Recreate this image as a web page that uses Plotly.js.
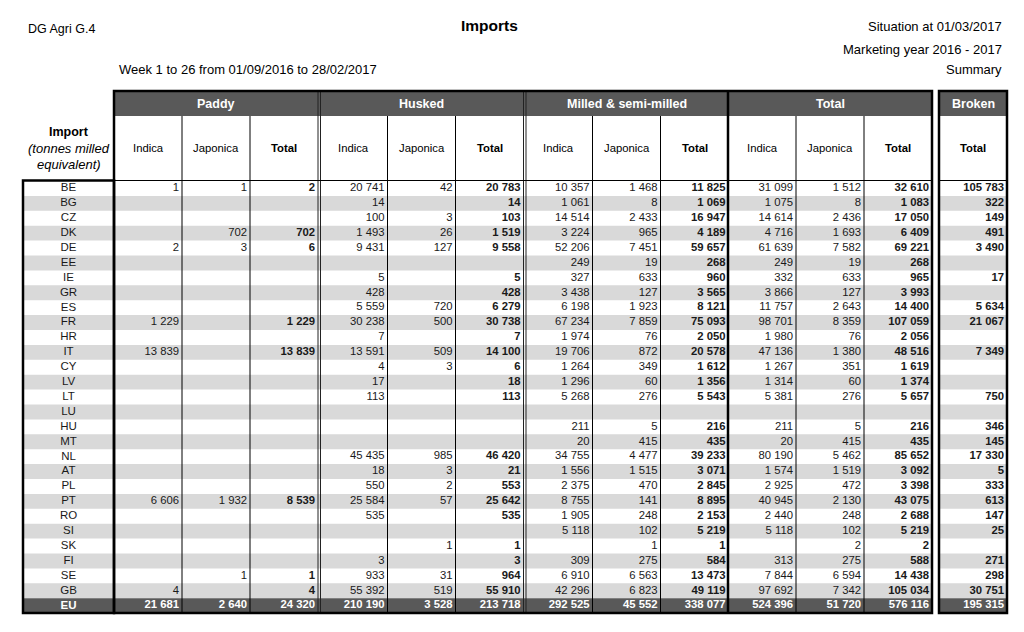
<!DOCTYPE html>
<html>
<head>
<meta charset="utf-8">
<script src="https://cdn.plot.ly/plotly-3.0.1.min.js"></script>
<style>html,body{margin:0;padding:0;background:#fff;}#chart{width:1024px;height:632px;}</style>
</head>
<body>
<div id="chart"></div>
<script>
// ---------------- DATA ----------------
const countries = ['BE','BG','CZ','DK','DE','EE','IE','GR','ES','FR','HR','IT','CY','LV','LT','LU','HU','MT','NL','AT','PL','PT','RO','SI','SK','FI','SE','GB','EU'];

const paddyIndica    = [1,null,null,null,2,null,null,null,null,1229,null,13839,null,null,null,null,null,null,null,null,null,6606,null,null,null,null,null,4,21681];
const paddyJaponica  = [1,null,null,702,3,null,null,null,null,null,null,null,null,null,null,null,null,null,null,null,null,1932,null,null,null,null,1,null,2640];
const paddyTotal     = [2,null,null,702,6,null,null,null,null,1229,null,13839,null,null,null,null,null,null,null,null,null,8539,null,null,null,null,1,4,24320];

const huskedIndica   = [20741,14,100,1493,9431,null,5,428,5559,30238,7,13591,4,17,113,null,null,null,45435,18,550,25584,535,null,null,3,933,55392,210190];
const huskedJaponica = [42,null,3,26,127,null,null,null,720,500,null,509,3,null,null,null,null,null,985,3,2,57,null,null,1,null,31,519,3528];
const huskedTotal    = [20783,14,103,1519,9558,null,5,428,6279,30738,7,14100,6,18,113,null,null,null,46420,21,553,25642,535,null,1,3,964,55910,213718];

const milledIndica   = [10357,1061,14514,3224,52206,249,327,3438,6198,67234,1974,19706,1264,1296,5268,null,211,20,34755,1556,2375,8755,1905,5118,null,309,6910,42296,292525];
const milledJaponica = [1468,8,2433,965,7451,19,633,127,1923,7859,76,872,349,60,276,null,5,415,4477,1515,470,141,248,102,1,275,6563,6823,45552];
const milledTotal    = [11825,1069,16947,4189,59657,268,960,3565,8121,75093,2050,20578,1612,1356,5543,null,216,435,39233,3071,2845,8895,2153,5219,1,584,13473,49119,338077];

const totalIndica    = [31099,1075,14614,4716,61639,249,332,3866,11757,98701,1980,47136,1267,1314,5381,null,211,20,80190,1574,2925,40945,2440,5118,null,313,7844,97692,524396];
const totalJaponica  = [1512,8,2436,1693,7582,19,633,127,2643,8359,76,1380,351,60,276,null,5,415,5462,1519,472,2130,248,102,2,275,6594,7342,51720];
const totalTotal     = [32610,1083,17050,6409,69221,268,965,3993,14400,107059,2056,48516,1619,1374,5657,null,216,435,85652,3092,3398,43075,2688,5219,2,588,14438,105034,576116];

const brokenTotal    = [105783,322,149,491,3490,null,17,null,5634,21067,null,7349,null,null,750,null,346,145,17330,5,333,613,147,25,null,271,298,30751,195315];

const groupNames = ['Paddy','Husked','Milled & semi-milled','Total'];
const subLabels  = ['Indica','Japonica','Total'];
const brokenName = 'Broken';

const headerLeft   = 'DG Agri G.4';
const headerTitle  = 'Imports';
const headerRight1 = 'Situation at 01/03/2017';
const headerRight2 = 'Marketing year 2016 - 2017';
const headerWeek   = 'Week 1 to 26 from 01/09/2016 to 28/02/2017';
const headerRight3 = 'Summary';

// ---------------- LAYOUT / STYLE ----------------
const FONT = '"Liberation Sans", Arial, sans-serif';
const DARK = '#595959', STRIPE = '#d9d9d9', INK = '#1a1a1a';
const G = {
  labelX0: 23, labelX1: 114,
  bandTop: 91, bandBot: 116, subBot: 180.5,
  rowTop: 181, rowH: 14.9,
  colW: 68,
  groupX0: [114, 319.5, 524.5, 728],
  brokenX0: 939
};
const groupSeries = [
  [paddyIndica, paddyJaponica, paddyTotal],
  [huskedIndica, huskedJaponica, huskedTotal],
  [milledIndica, milledJaponica, milledTotal],
  [totalIndica, totalJaponica, totalTotal]
];

const nRows = countries.length;
const euIdx = nRows - 1;
const rowY = i => G.rowTop + (i + 0.5) * G.rowH;
const bottom = G.rowTop + nRows * G.rowH;
const mainX1 = G.groupX0[3] + 3 * G.colW;
const brokenX1 = G.brokenX0 + G.colW;
const fmt = v => String(v).replace(/\B(?=(\d{3})+(?!\d))/g, ' ');

// columns
const columns = [];
groupSeries.forEach((ser, g) => {
  ser.forEach((vals, k) => {
    const x0 = G.groupX0[g] + k * G.colW;
    columns.push({x0, x1: x0 + G.colW, vals, bold: k === 2});
  });
});
columns.push({x0: G.brokenX0, x1: brokenX1, vals: brokenTotal, bold: true});

const traces = [];
columns.forEach(col => {
  const xs = [], ys = [], ts = [], cs = [];
  col.vals.forEach((v, i) => {
    if (v == null) return;
    xs.push(col.x1 - 3);
    ys.push(rowY(i));
    const s = fmt(v);
    ts.push((col.bold || i === euIdx) ? '<b>' + s + '</b>' : s);
    cs.push(i === euIdx ? '#ffffff' : INK);
  });
  traces.push({
    type: 'scatter', mode: 'text', x: xs, y: ys, text: ts,
    textposition: 'middle left',
    textfont: {family: FONT, size: 11.3, color: cs},
    hoverinfo: 'skip', showlegend: false, cliponaxis: false
  });
});
// row labels
traces.push({
  type: 'scatter', mode: 'text',
  x: countries.map(() => (G.labelX0 + G.labelX1) / 2),
  y: countries.map((c, i) => rowY(i)),
  text: countries.map((c, i) => i === euIdx ? '<b>' + c + '</b>' : c),
  textposition: 'middle center',
  textfont: {family: FONT, size: 11.5, color: countries.map((c, i) => i === euIdx ? '#ffffff' : INK)},
  hoverinfo: 'skip', showlegend: false, cliponaxis: false
});

// shapes
const shapes = [];
const rect = (x0, x1, y0, y1, fill, layer) => shapes.push({type: 'rect', xref: 'x', yref: 'y', x0, x1, y0, y1, fillcolor: fill, line: {width: 0}, layer: layer || 'below'});
const line = (x0, y0, x1, y1, w, c) => shapes.push({type: 'line', xref: 'x', yref: 'y', x0, y0, x1, y1, line: {width: w, color: c || '#000'}});
const box = (x0, x1, y0, y1, w) => shapes.push({type: 'rect', xref: 'x', yref: 'y', x0, x1, y0, y1, fillcolor: 'rgba(0,0,0,0)', line: {width: w, color: '#000'}});

for (let i = 0; i < nRows; i++) {
  const y0 = G.rowTop + i * G.rowH, y1 = y0 + G.rowH;
  if (i === euIdx) {
    rect(G.labelX0, mainX1, y0, y1, DARK);
    rect(G.brokenX0, brokenX1, y0, y1, DARK);
  } else if (i % 2 === 1) {
    rect(G.labelX0, mainX1, y0, y1, STRIPE);
    rect(G.brokenX0, brokenX1, y0, y1, STRIPE);
  }
}
// header bands
rect(G.groupX0[0], mainX1, G.bandTop, G.bandBot, DARK);
rect(G.brokenX0, brokenX1, G.bandTop, G.bandBot, DARK);

// inner column lines
G.groupX0.forEach(x0 => {
  for (let k = 1; k < 3; k++) line(x0 + k * G.colW, G.bandBot, x0 + k * G.colW, bottom, 1, '#000');
});
// group separators (double lines)
[1, 2].forEach(g => {
  const xr = G.groupX0[g - 1] + 3 * G.colW;
  line(xr, G.bandTop, xr, bottom, 1, '#222');
  line(xr + 2.5, G.bandTop, xr + 2.5, bottom, 1, '#222');
});
line(G.groupX0[3], G.bandTop, G.groupX0[3], bottom, 2.5, '#000');
// header bottom lines
line(G.groupX0[0], G.subBot, mainX1, G.subBot, 1, '#000');
line(G.brokenX0, G.subBot, brokenX1, G.subBot, 1, '#000');
// outer boxes
box(G.groupX0[0], mainX1, G.bandTop, bottom, 2.5);
box(G.brokenX0, brokenX1, G.bandTop, bottom, 2.5);
box(G.labelX0, G.labelX1, G.subBot, bottom, 2.5);

// annotations
const ann = [];
const A = (x, y, text, size, opts) => ann.push(Object.assign({xref: 'x', yref: 'y', x, y, text, showarrow: false, xanchor: 'center', yanchor: 'middle', font: {family: FONT, size, color: '#000'}}, opts || {}));
const bandY = (G.bandTop + G.bandBot) / 2, subY = (G.bandBot + G.subBot) / 2;
groupNames.forEach((n, g) => {
  const cx = G.groupX0[g] + 1.5 * G.colW;
  A(cx, bandY, '<b>' + n + '</b>', 12, {font: {family: FONT, size: 12.5, color: '#fff'}});
  subLabels.forEach((s, k) => {
    A(G.groupX0[g] + (k + 0.5) * G.colW, subY, k === 2 ? '<b>' + s + '</b>' : s, 11.3);
  });
});
A((G.brokenX0 + brokenX1) / 2, bandY, '<b>' + brokenName + '</b>', 12, {font: {family: FONT, size: 12.5, color: '#fff'}});
A((G.brokenX0 + brokenX1) / 2, subY, '<b>Total</b>', 11.3);
const lx = (G.labelX0 + G.labelX1) / 2;
A(lx, 132, '<b>Import</b>', 12.5);
A(lx, 148, '<i>(tonnes milled</i>', 13);
A(lx, 164, '<i>equivalent)</i>', 13);

A(26, 29, headerLeft, 12.5, {xanchor: 'left'});
A(489, 25, '<b>' + headerTitle + '</b>', 15.5);
A(1004, 26, headerRight1, 13, {xanchor: 'right'});
A(1004, 49, headerRight2, 13, {xanchor: 'right'});
A(117, 69, headerWeek, 13, {xanchor: 'left'});
A(1004, 69, headerRight3, 13, {xanchor: 'right'});

const layout = {
  width: 1024, height: 632,
  margin: {l: 0, r: 0, t: 0, b: 0, pad: 0},
  paper_bgcolor: '#fff', plot_bgcolor: '#fff',
  xaxis: {range: [0, 1024], visible: false, fixedrange: true},
  yaxis: {range: [632, 0], visible: false, fixedrange: true},
  showlegend: false,
  shapes, annotations: ann,
  font: {family: FONT}
};
Plotly.newPlot('chart', traces, layout, {staticPlot: true, displayModeBar: false});
</script>
</body>
</html>
